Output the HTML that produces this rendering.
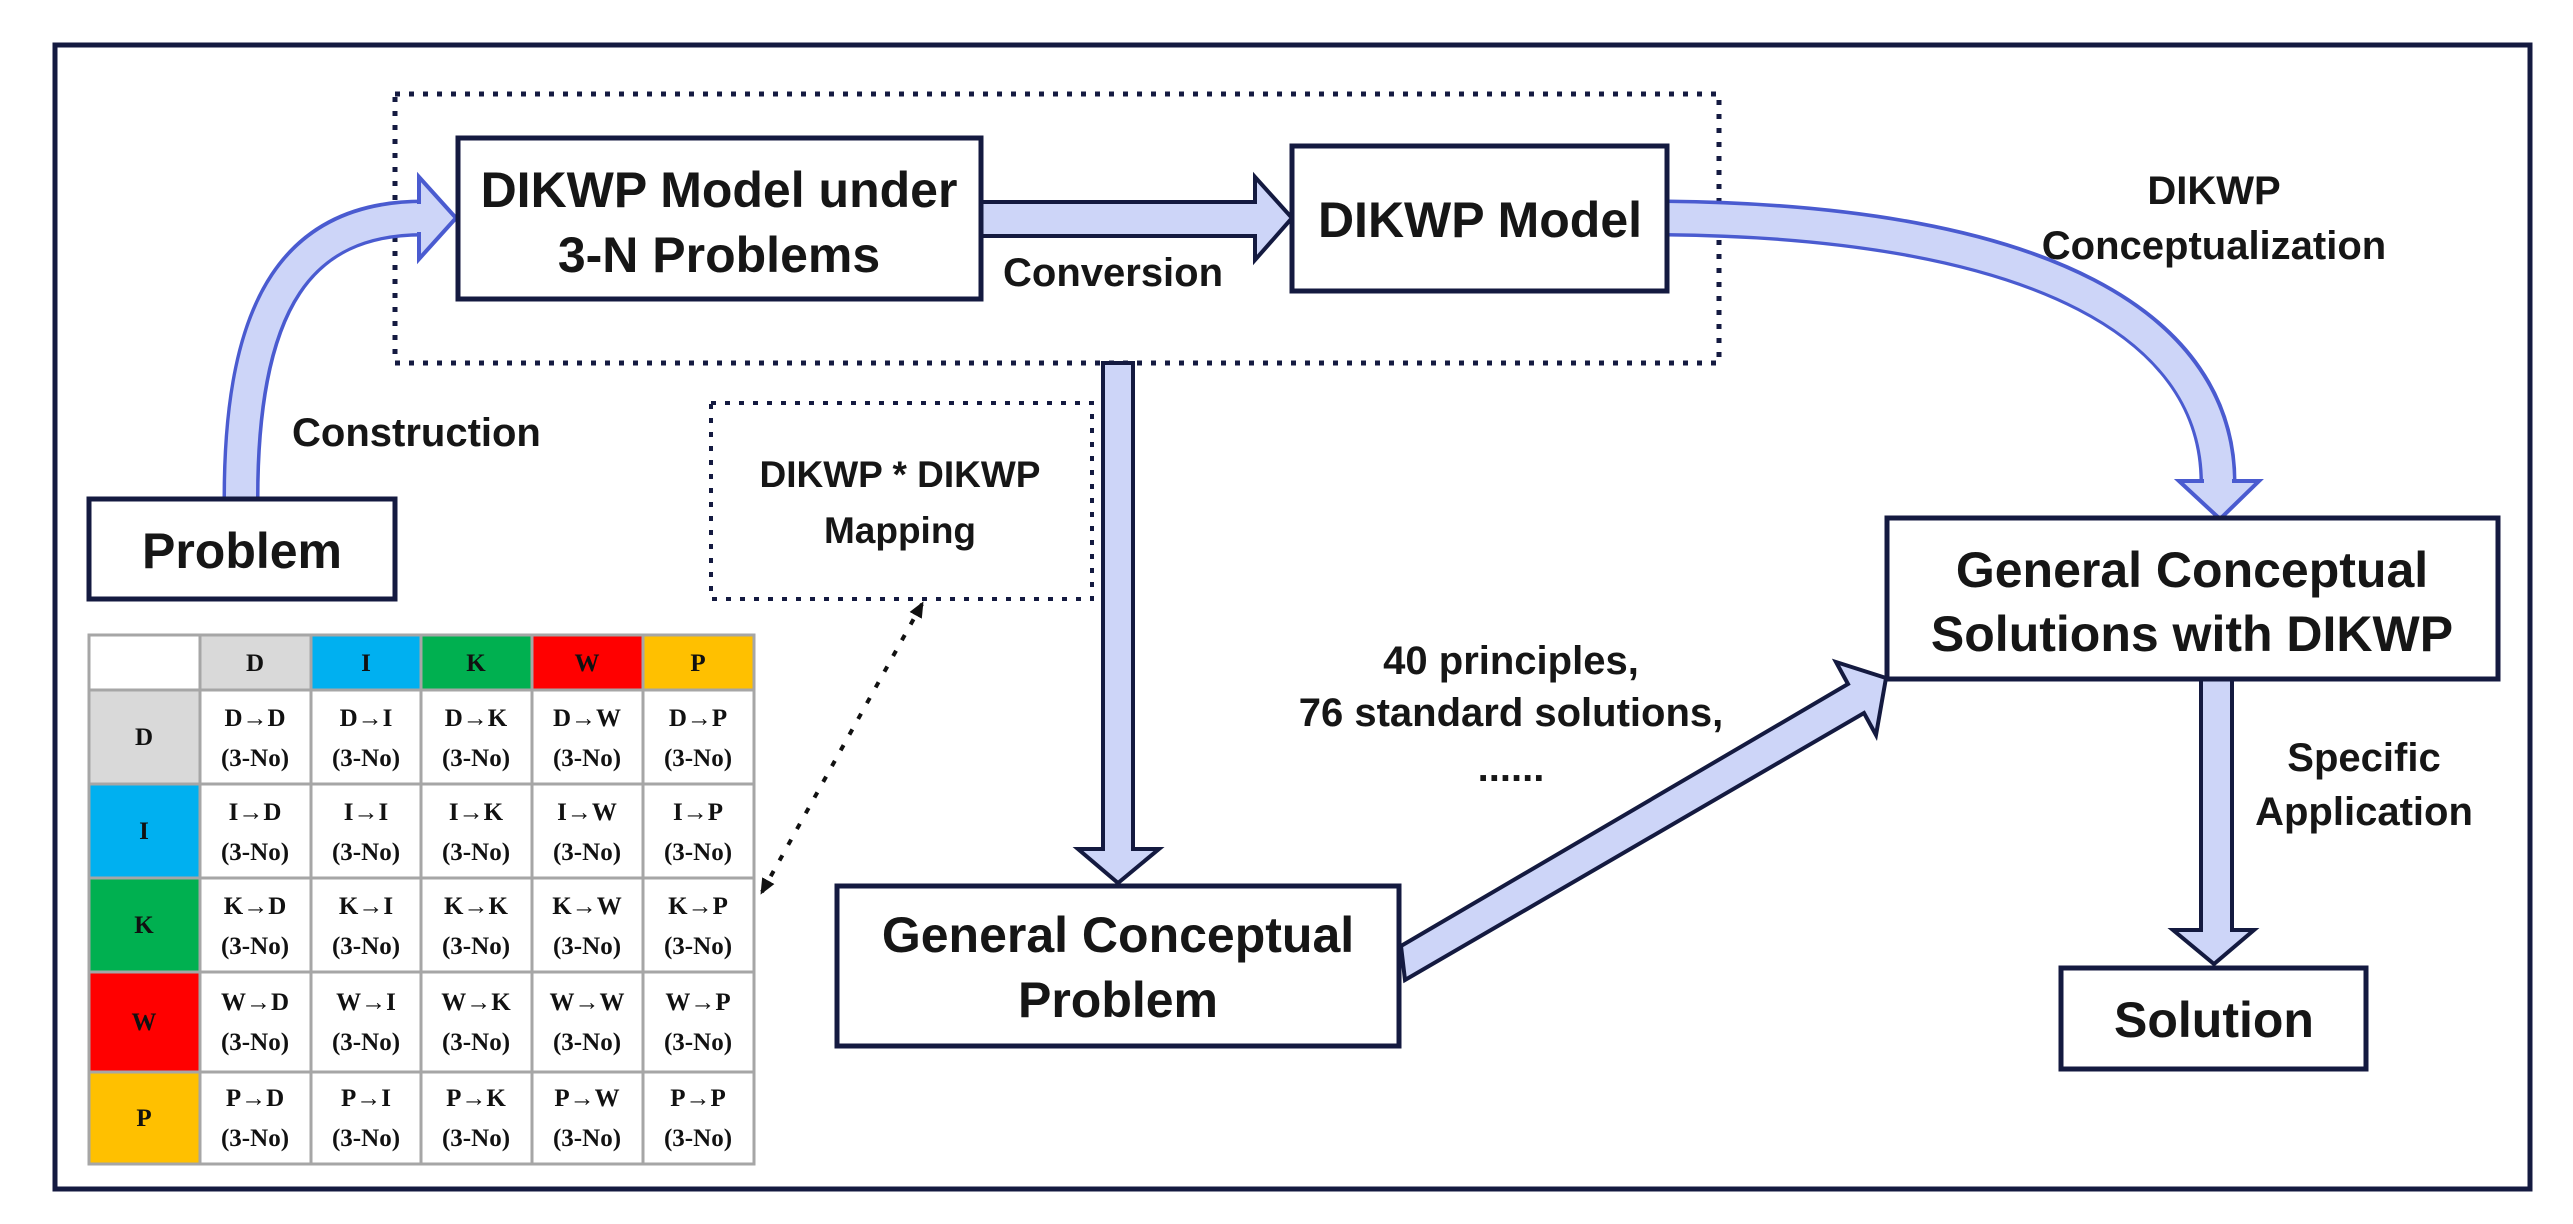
<!DOCTYPE html>
<html><head><meta charset="utf-8"><style>
html,body{margin:0;padding:0;background:#fff;}
svg{display:block;}
.t{font-family:"Liberation Sans",sans-serif;font-weight:bold;fill:#161616;}
.s{font-family:"Liberation Serif",serif;font-weight:bold;fill:#111;font-size:25px;}
</style></head><body>
<svg width="2573" height="1224" viewBox="0 0 2573 1224" xmlns="http://www.w3.org/2000/svg">
<defs>
<marker id="ah" markerWidth="16" markerHeight="16" refX="13" refY="8" orient="auto" markerUnits="userSpaceOnUse">
<path d="M0,1 L16,8 L0,15 Z" fill="#111"/></marker>
<marker id="ah2" markerWidth="16" markerHeight="16" refX="3" refY="8" orient="auto" markerUnits="userSpaceOnUse">
<path d="M16,1 L0,8 L16,15 Z" fill="#111"/></marker>
</defs>
<rect x="55" y="45" width="2475" height="1144" fill="none" stroke="#141a40" stroke-width="5"/>
<rect x="395" y="94" width="1324" height="269" fill="none" stroke="#141a40" stroke-width="5" stroke-dasharray="5,9"/>
<rect x="711" y="403" width="381" height="196" fill="none" stroke="#141a40" stroke-width="4" stroke-dasharray="5,9"/>
<text class="t" font-size="37" x="900" y="487" text-anchor="middle">DIKWP * DIKWP</text>
<text class="t" font-size="37" x="900" y="543" text-anchor="middle">Mapping</text>

<path d="M241,499 C241,300 300,218 422,218" fill="none" stroke="#4a5bd0" stroke-width="37"/>
<path d="M241,497 C241,300 300,218 424,218" fill="none" stroke="#cdd5f8" stroke-width="30"/>
<polygon points="419,177 456,218 419,259" fill="#cdd5f8" stroke="#4a5bd0" stroke-width="4"/>
<rect x="415" y="204" width="8" height="28" fill="#cdd5f8"/>

<path d="M1667,218 C2050,222 2218,330 2218,482" fill="none" stroke="#4a5bd0" stroke-width="37"/>
<path d="M1665,218 C2050,222 2218,330 2218,484" fill="none" stroke="#cdd5f8" stroke-width="30"/>
<polygon points="2179,481 2259,481 2220,519" fill="#cdd5f8" stroke="#4a5bd0" stroke-width="4"/>
<rect x="2204" y="476" width="28" height="8" fill="#cdd5f8"/>

<polygon points="981,202 1255,202 1255,177 1292,218 1255,260 1255,236 981,236" fill="#cdd5f8" stroke="#141a40" stroke-width="4"/>
<polygon points="1103,363 1133,363 1133,849 1159,849 1118,883 1078,849 1103,849" fill="#cdd5f8" stroke="#141a40" stroke-width="4"/>
<polygon points="1401,946 1848,684 1836,662 1886,678 1876,735 1864,713 1405,980" fill="#cdd5f8" stroke="#141a40" stroke-width="4"/>
<polygon points="2201,679 2232,679 2232,930 2254,930 2214,964 2173,930 2201,930" fill="#cdd5f8" stroke="#141a40" stroke-width="4"/>

<line x1="762" y1="892" x2="922" y2="604" stroke="#111" stroke-width="4" stroke-dasharray="6,12" marker-start="url(#ah2)" marker-end="url(#ah)"/>

<rect x="458" y="138" width="523" height="161" fill="#fff" stroke="#141a40" stroke-width="5"/>
<text class="t" font-size="50" x="719" y="207" text-anchor="middle">DIKWP Model under</text>
<text class="t" font-size="50" x="719" y="272" text-anchor="middle">3-N Problems</text>

<rect x="1292" y="146" width="375" height="145" fill="#fff" stroke="#141a40" stroke-width="5"/>
<text class="t" font-size="50" x="1480" y="237" text-anchor="middle">DIKWP Model</text>

<rect x="89" y="499" width="306" height="100" fill="#fff" stroke="#141a40" stroke-width="5"/>
<text class="t" font-size="50" x="242" y="568" text-anchor="middle">Problem</text>

<rect x="837" y="886" width="562" height="160" fill="#fff" stroke="#141a40" stroke-width="5"/>
<text class="t" font-size="50" x="1118" y="952" text-anchor="middle">General Conceptual</text>
<text class="t" font-size="50" x="1118" y="1017" text-anchor="middle">Problem</text>

<rect x="1887" y="518" width="611" height="161" fill="#fff" stroke="#141a40" stroke-width="5"/>
<text class="t" font-size="50" x="2192" y="587" text-anchor="middle">General Conceptual</text>
<text class="t" font-size="50" x="2192" y="651" text-anchor="middle">Solutions with DIKWP</text>

<rect x="2061" y="968" width="305" height="101" fill="#fff" stroke="#141a40" stroke-width="5"/>
<text class="t" font-size="50" x="2214" y="1037" text-anchor="middle">Solution</text>

<text class="t" font-size="40" x="1003" y="286">Conversion</text>
<text class="t" font-size="40" x="292" y="446">Construction</text>
<text class="t" font-size="40" x="2214" y="204" text-anchor="middle">DIKWP</text>
<text class="t" font-size="40" x="2214" y="259" text-anchor="middle">Conceptualization</text>
<text class="t" font-size="40" x="1511" y="674" text-anchor="middle">40 principles,</text>
<text class="t" font-size="40" x="1511" y="726" text-anchor="middle">76 standard solutions,</text>
<text class="t" font-size="40" x="1511" y="781" text-anchor="middle">......</text>
<text class="t" font-size="40" x="2364" y="771" text-anchor="middle">Specific</text>
<text class="t" font-size="40" x="2364" y="825" text-anchor="middle">Application</text>

<g stroke="#a6a6a6" stroke-width="3">
<rect x="89" y="635" width="111" height="55" fill="#fff"/>
<rect x="200" y="635" width="111" height="55" fill="#d9d9d9"/>
<rect x="311" y="635" width="110" height="55" fill="#00b0f0"/>
<rect x="421" y="635" width="111" height="55" fill="#00b050"/>
<rect x="532" y="635" width="111" height="55" fill="#ff0000"/>
<rect x="643" y="635" width="111" height="55" fill="#ffc000"/>
<rect x="89" y="690" width="111" height="94" fill="#d9d9d9"/>
<rect x="89" y="784" width="111" height="94" fill="#00b0f0"/>
<rect x="89" y="878" width="111" height="94" fill="#00b050"/>
<rect x="89" y="972" width="111" height="100" fill="#ff0000"/>
<rect x="89" y="1072" width="111" height="92" fill="#ffc000"/>
<rect x="200" y="690" width="554" height="474" fill="#fff"/>
<line x1="311" y1="690" x2="311" y2="1164"/><line x1="421" y1="690" x2="421" y2="1164"/>
<line x1="532" y1="690" x2="532" y2="1164"/><line x1="643" y1="690" x2="643" y2="1164"/>
<line x1="200" y1="784" x2="754" y2="784"/><line x1="200" y1="878" x2="754" y2="878"/>
<line x1="200" y1="972" x2="754" y2="972"/><line x1="200" y1="1072" x2="754" y2="1072"/>
</g>
<g class="s" text-anchor="middle">
<text x="255" y="671">D</text><text x="366" y="671">I</text><text x="476" y="671">K</text><text x="587" y="671">W</text><text x="698" y="671">P</text>
<text x="144" y="745">D</text><text x="144" y="839">I</text><text x="144" y="933">K</text><text x="144" y="1030">W</text><text x="144" y="1126">P</text>
</g>
<g class="s" text-anchor="middle">
<text x="255" y="726">D→D</text><text x="366" y="726">D→I</text><text x="476" y="726">D→K</text><text x="587" y="726">D→W</text><text x="698" y="726">D→P</text>
<text x="255" y="766">(3-No)</text><text x="366" y="766">(3-No)</text><text x="476" y="766">(3-No)</text><text x="587" y="766">(3-No)</text><text x="698" y="766">(3-No)</text>
<text x="255" y="820">I→D</text><text x="366" y="820">I→I</text><text x="476" y="820">I→K</text><text x="587" y="820">I→W</text><text x="698" y="820">I→P</text>
<text x="255" y="860">(3-No)</text><text x="366" y="860">(3-No)</text><text x="476" y="860">(3-No)</text><text x="587" y="860">(3-No)</text><text x="698" y="860">(3-No)</text>
<text x="255" y="914">K→D</text><text x="366" y="914">K→I</text><text x="476" y="914">K→K</text><text x="587" y="914">K→W</text><text x="698" y="914">K→P</text>
<text x="255" y="954">(3-No)</text><text x="366" y="954">(3-No)</text><text x="476" y="954">(3-No)</text><text x="587" y="954">(3-No)</text><text x="698" y="954">(3-No)</text>
<text x="255" y="1010">W→D</text><text x="366" y="1010">W→I</text><text x="476" y="1010">W→K</text><text x="587" y="1010">W→W</text><text x="698" y="1010">W→P</text>
<text x="255" y="1050">(3-No)</text><text x="366" y="1050">(3-No)</text><text x="476" y="1050">(3-No)</text><text x="587" y="1050">(3-No)</text><text x="698" y="1050">(3-No)</text>
<text x="255" y="1106">P→D</text><text x="366" y="1106">P→I</text><text x="476" y="1106">P→K</text><text x="587" y="1106">P→W</text><text x="698" y="1106">P→P</text>
<text x="255" y="1146">(3-No)</text><text x="366" y="1146">(3-No)</text><text x="476" y="1146">(3-No)</text><text x="587" y="1146">(3-No)</text><text x="698" y="1146">(3-No)</text>
</g>
</svg>
</body></html>
